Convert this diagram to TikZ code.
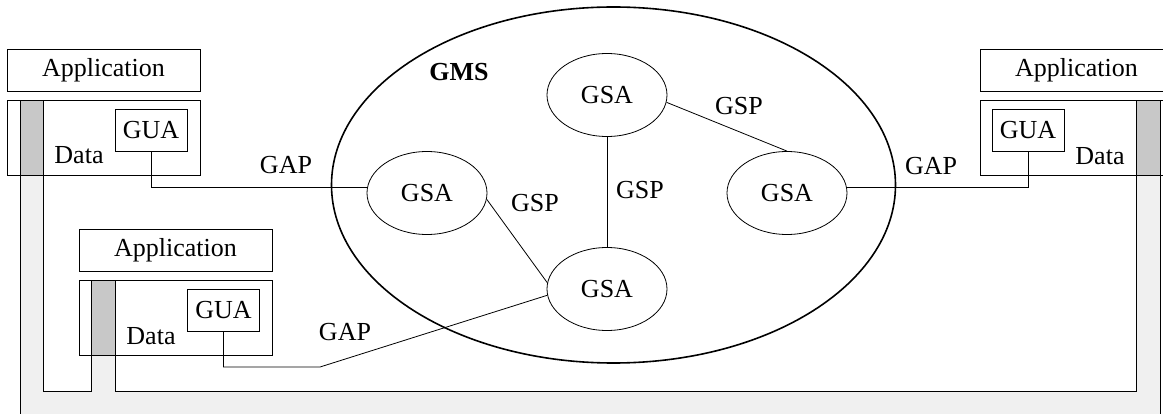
\documentclass[tikz,border=0pt]{standalone}
\usepackage{fontspec}
\setmainfont{Liberation Serif}
\usetikzlibrary{shapes.geometric}
\definecolor{busgray}{HTML}{F0F0F0}
\definecolor{stripgray}{HTML}{C8C8C8}

\begin{document}
\begin{tikzpicture}[
        x=1pt, y=-1pt,
        line width=0.8pt,
        every node/.style={font=\fontsize{26}{30}\selectfont, inner sep=0pt},
        appbox/.style={draw, fill=white, minimum width=193pt, minimum height=42pt},
        databox/.style={draw, fill=white, minimum width=193pt, minimum height=75pt},
        guabox/.style={draw, fill=white, minimum width=72pt, minimum height=42pt},
        gsa/.style={draw, ellipse, minimum width=120pt, minimum height=83pt},
        strip/.style={draw, fill=stripgray}
    ]
    \useasboundingbox (0,0) rectangle (1163,414);
    \clip (0,0) rectangle (1163,414);

    % Bus
    \fill[busgray] (20,175) rectangle (1160,430);
    \fill[white] (43,175) -- (43,391) -- (91,391) -- (91,355)
      -- (115,355) -- (115,391) -- (1136,391) -- (1136,175) -- cycle;
    \draw (20,175) -- (20,430);
    \draw (1160,175) -- (1160,430);
    \draw (43,175) -- (43,391) -- (91,391) -- (91,355);
    \draw (115,355) -- (115,391) -- (1136,391) -- (1136,175);

    % Application boxes
    \node[appbox] (app1) at (103.5,70) {Application};
    \node[appbox] (app2) at (1076.5,70) {Application};
    \node[appbox] (app3) at (175.5,250) {Application};

    % Data boxes
    \node[databox] (data1) at (103.5,137.5) {};
    \node[databox] (data2) at (1076.5,137.5) {};
    \node[databox] (data3) at (175.5,318) {};
    \filldraw[strip] (20,100) rectangle (43,175);
    \filldraw[strip] (1136,100) rectangle (1160,175);
    \filldraw[strip] (91,280.5) rectangle (115,355.5);
    \node (dlbl1) at (79,155) {Data};
    \node (dlbl2) at (1100,156) {Data};
    \node (dlbl3) at (151,336) {Data};

    % GUA boxes
    \node[guabox] (gua1) at (151,130) {GUA};
    \node[guabox] (gua2) at (1028,130) {GUA};
    \node[guabox] (gua3) at (223.5,310) {GUA};

    % GMS
    \node[draw, ellipse, line width=1.6pt, minimum width=564pt, minimum height=356pt]
      (gms) at (613.5,185) {};
    \node[font=\fontsize{26}{30}\selectfont\bfseries] (gmslbl) at (459,72) {GMS};

    % GSA nodes
    \node[gsa] (gsaT) at (607,95) {GSA};
    \node[gsa] (gsaL) at (427,193) {GSA};
    \node[gsa] (gsaR) at (787,193) {GSA};
    \node[gsa] (gsaB) at (607,289) {GSA};

    % GSP links
    \draw (gsaT.353) -- (gsaR.north);
    \draw (gsaT.south) -- (gsaB.north);
    \draw (gsaL.354) -- (gsaB.174);
    \node (gsp1) at (739,106) {GSP};
    \node (gsp2) at (640,190) {GSP};
    \node (gsp3) at (535,203) {GSP};

    % GAP links
    \draw (gua1.south) |- (gsaL.175);
    \draw (gsaR.5) -| (gua2.south);
    \coordinate (bend) at (320,367);
    \draw (gua3.south) |- (bend) -- (gsaB.186);
    \node (gap1) at (286,165) {GAP};
    \node (gap2) at (931,166) {GAP};
    \node (gap3) at (345,332) {GAP};
\end{tikzpicture}
\end{document}
